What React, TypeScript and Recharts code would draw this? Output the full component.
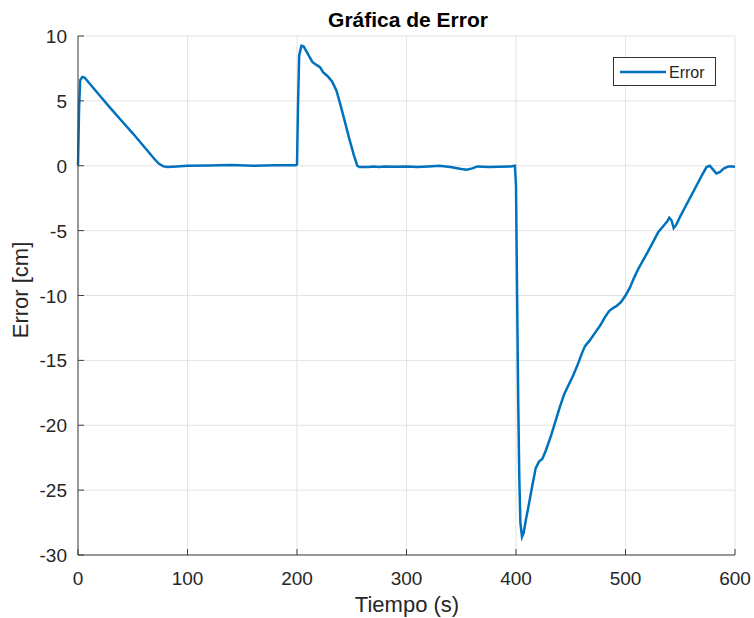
import React from 'react';
import { LineChart, Line, XAxis, YAxis, CartesianGrid, Legend } from 'recharts';

const timeS = [
  0, 1, 2, 4, 6, 10, 20, 30, 40, 50, 60, 65, 70, 74, 78, 82, 90, 100, 120, 140, 160, 180, 199,
  200, 201, 202, 204, 206, 210, 214, 218, 221, 224, 228, 232, 236, 240, 244, 248, 252, 255, 257,
  265, 270, 275, 280, 290, 300, 310, 320, 330, 340, 350, 355, 360, 365, 375, 385, 395, 399,
  400, 401, 402, 403, 404, 405.5, 407, 409, 412, 415, 418, 421, 424, 427, 432, 436, 440, 444, 448,
  452, 456, 460, 463, 467, 472, 477, 481, 485, 488, 492, 496, 500, 504, 508, 512, 516, 520, 525,
  530, 535, 538, 540, 542, 544, 546, 550, 555, 560, 565, 570, 574, 577, 580, 583, 586, 590, 594,
  598, 600,
];

const errorCm = [
  0, 4.5, 6.6, 6.85, 6.8, 6.4, 5.4, 4.4, 3.45, 2.5, 1.5, 1.0, 0.5, 0.15, -0.05, -0.1, -0.05, 0.0, 0.02, 0.05, 0.0, 0.03, 0.03,
  0.1, 5, 8.5, 9.25, 9.2, 8.6, 8.0, 7.75, 7.6, 7.2, 6.9, 6.5, 5.8, 4.6, 3.3, 2.0, 0.8, 0.0, -0.1,
  -0.1, -0.05, -0.1, -0.05, -0.08, -0.05, -0.1, -0.05, 0.0, -0.1, -0.25, -0.3, -0.2, -0.05, -0.1, -0.08, -0.05, 0.0,
  -1.5, -10, -18, -24, -27.5, -28.6, -28.3, -27.3, -26.0, -24.6, -23.3, -22.8, -22.6, -22.0, -20.8, -19.7, -18.6, -17.6, -16.9,
  -16.2, -15.4, -14.5, -13.9, -13.5, -12.9, -12.3, -11.7, -11.2, -11.0, -10.8, -10.5, -10.0, -9.4, -8.6, -7.9, -7.3, -6.7, -5.9,
  -5.1, -4.6, -4.3, -4.0, -4.2, -4.8, -4.6, -3.9, -3.1, -2.3, -1.5, -0.7, -0.1, 0.0, -0.3, -0.6, -0.5, -0.2, -0.05,
  -0.05, -0.1,
];

const xTicks = [0, 100, 200, 300, 400, 500, 600];
const yTicks = [-30, -25, -20, -15, -10, -5, 0, 5, 10];

const title = 'Gráfica de Error';
const xLabel = 'Tiempo (s)';
const yLabel = 'Error [cm]';
const seriesName = 'Error';

const data = timeS.map((t, i) => ({ t, e: errorCm[i] }));

const FONT = '"Liberation Sans", Arial, Helvetica, sans-serif';
const AXIS = '#404040';
const TEXT = '#262626';
const BLUE = '#0072BD';

const BottomTick = (props: any) => {
  const { x, y, payload } = props;
  return (
    <g>
      <line x1={x} x2={x} y1={y} y2={y - 6} stroke={AXIS} strokeWidth={1} />
      <text x={x} y={y + 30} textAnchor="middle" fontSize={19} fill={TEXT} fontFamily={FONT}>
        {payload.value}
      </text>
    </g>
  );
};

const TopTick = (props: any) => {
  const { x, y } = props;
  return <line x1={x} x2={x} y1={y} y2={y + 6} stroke={AXIS} strokeWidth={1} />;
};

const LeftTick = (props: any) => {
  const { x, y, payload } = props;
  return (
    <g>
      <line x1={x} x2={x + 6} y1={y} y2={y} stroke={AXIS} strokeWidth={1} />
      <text x={x - 11} y={y + 7} textAnchor="end" fontSize={19} fill={TEXT} fontFamily={FONT}>
        {payload.value}
      </text>
    </g>
  );
};

const RightTick = (props: any) => {
  const { x, y } = props;
  return <line x1={x} x2={x - 6} y1={y} y2={y} stroke={AXIS} strokeWidth={1} />;
};

const LegendBox = () => (
  <div
    style={{
      width: 101,
      height: 27,
      border: '1px solid #333',
      background: '#fff',
      position: 'relative',
      fontFamily: FONT,
    }}
  >
    <svg width={101} height={27} style={{ position: 'absolute', left: 0, top: 0 }}>
      <line x1={6} x2={52} y1={14} y2={14} stroke={BLUE} strokeWidth={2.5} />
      <text x={55} y={20} fontSize={16} fill={TEXT} fontFamily={FONT}>
        {seriesName}
      </text>
    </svg>
  </div>
);

export default function App() {
  return (
    <div
      style={{
        position: 'relative',
        width: 754,
        height: 618,
        background: '#fff',
        overflow: 'hidden',
      }}
    >
      <style>{'html,body{margin:0;padding:0;background:#fff;overflow:hidden;}'}</style>
      <LineChart
        width={754}
        height={618}
        data={data}
        margin={{ top: 36, right: 19, bottom: 23, left: 8 }}
        style={{ fontFamily: FONT }}
      >
        <CartesianGrid stroke="#e3e3e3" strokeWidth={1} />
        <XAxis
          dataKey="t"
          type="number"
          domain={[0, 600]}
          ticks={xTicks}
          height={40}
          axisLine={{ stroke: AXIS, strokeWidth: 1 }}
          tickLine={false}
          tickSize={0}
          tickMargin={0}
          tick={<BottomTick />}
          interval={0}
        />
        <XAxis
          xAxisId="top"
          orientation="top"
          dataKey="t"
          type="number"
          domain={[0, 600]}
          ticks={xTicks}
          height={0}
          axisLine={{ stroke: AXIS, strokeWidth: 1 }}
          tickLine={false}
          tickSize={0}
          tickMargin={0}
          tick={<TopTick />}
          interval={0}
        />
        <YAxis
          type="number"
          domain={[-30, 10]}
          ticks={yTicks}
          width={70}
          axisLine={{ stroke: AXIS, strokeWidth: 1 }}
          tickLine={false}
          tickSize={0}
          tickMargin={0}
          tick={<LeftTick />}
          interval={0}
        />
        <YAxis
          yAxisId="right"
          orientation="right"
          type="number"
          domain={[-30, 10]}
          ticks={yTicks}
          width={0}
          axisLine={{ stroke: AXIS, strokeWidth: 1 }}
          tickLine={false}
          tickSize={0}
          tickMargin={0}
          tick={<RightTick />}
          interval={0}
        />
        <Legend
          content={<LegendBox />}
          wrapperStyle={{
            position: 'absolute',
            left: 613,
            top: 57,
            width: 0,
            height: 0,
            overflow: 'visible',
          }}
        />
        <Line
          type="linear"
          dataKey="e"
          name={seriesName}
          stroke={BLUE}
          strokeWidth={2.5}
          dot={false}
          activeDot={false}
          isAnimationActive={false}
        />
      </LineChart>
      <svg
        width={754}
        height={618}
        style={{ position: 'absolute', left: 0, top: 0, pointerEvents: 'none' }}
      >
        <text x={408} y={27} textAnchor="middle" fontSize={21} fontWeight="bold" fill="#000" fontFamily={FONT}>
          {title}
        </text>
        <text x={407} y={612} textAnchor="middle" fontSize={22} fill={TEXT} fontFamily={FONT}>
          {xLabel}
        </text>
        <text
          x={28}
          y={290}
          textAnchor="middle"
          fontSize={22}
          fill={TEXT}
          fontFamily={FONT}
          transform="rotate(-90 28 290)"
        >
          {yLabel}
        </text>
      </svg>
    </div>
  );
}
